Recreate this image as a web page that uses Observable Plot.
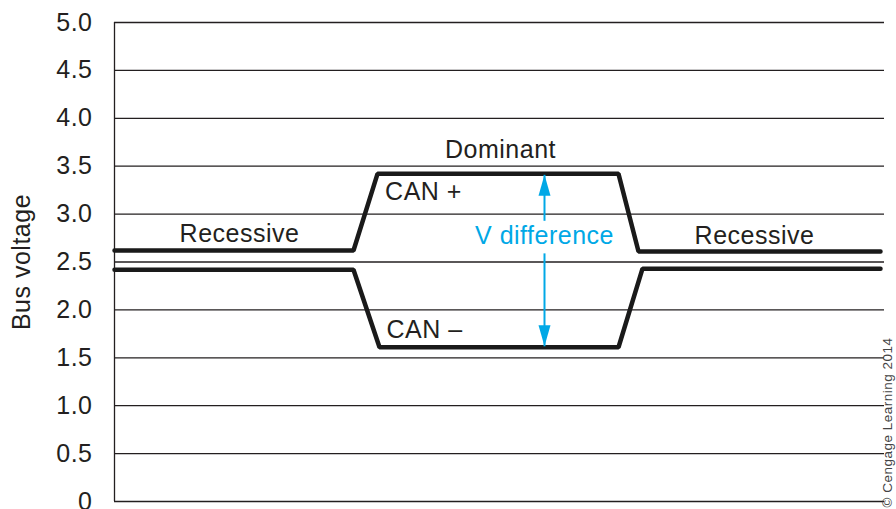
<!DOCTYPE html>
<html>
<head>
<meta charset="utf-8">
<script src="https://cdn.jsdelivr.net/npm/d3@7"></script>
<script src="https://cdn.jsdelivr.net/npm/@observablehq/plot@0.6"></script>
<style>
  html, body { margin: 0; padding: 0; background: #fff; }
  svg { display: block; }
  svg text { letter-spacing: 0.5px; }
</style>
</head>
<body>
<div id="chart"></div>
<script>
// ---- data (x in time units across the plot, y in volts) ----
const canPlusX = [0, 239, 263, 504, 524, 766];
const canPlusY = [2.62, 2.62, 3.42, 3.42, 2.61, 2.61];
const canMinusX = [0, 239, 265, 504, 528, 766];
const canMinusY = [2.42, 2.42, 1.61, 1.61, 2.43, 2.43];
const yTicks = [0, 0.5, 1.0, 1.5, 2.0, 2.5, 3.0, 3.5, 4.0, 4.5, 5.0];

const labelText = ["Dominant", "CAN +", "CAN \u2013", "Recessive", "Recessive"];
const labelX = [386, 309, 310, 125, 640];
const labelY = [3.67, 3.23, 1.79, 2.79, 2.77];

const diffX = 430;
const diffLabel = "V difference";
const diffLabelY = 2.77;
const diffTop = 3.41;
const diffBottom = 1.62;
const gapTop = 2.93;
const gapBottom = 2.59;

const cyan = "#00a8e6";
const ink = "#231f20";

const lines = [
  ...canPlusX.map((x, i) => ({series: "CAN+", x, y: canPlusY[i]})),
  ...canMinusX.map((x, i) => ({series: "CAN-", x, y: canMinusY[i]}))
];
const labels = labelText.map((t, i) => ({t, x: labelX[i], y: labelY[i]}));

const headShape = {
  draw(context) {
    context.moveTo(0, 0);
    context.lineTo(-6, 21);
    context.lineTo(6, 21);
    context.closePath();
  }
};

const font = "'Liberation Sans', Arial, Helvetica, sans-serif";

const chart = Plot.plot({
  width: 896,
  height: 509,
  marginLeft: 114,
  marginRight: 12,
  marginTop: 22,
  marginBottom: 8,
  style: {fontFamily: font, color: ink, background: "#fff", overflow: "visible"},
  x: {domain: [0, 770], axis: null},
  y: {domain: [0, 5], axis: null},
  marks: [
    Plot.ruleY(yTicks, {stroke: ink, strokeWidth: 1.3}),
    Plot.ruleX([0], {stroke: ink, strokeWidth: 1.3}),
    Plot.axisY(yTicks, {
      tickSize: 0, tickPadding: 22, fontSize: 25, fill: ink, label: null,
      tickFormat: d => d === 0 ? "0" : d.toFixed(1)
    }),
    Plot.text(["Bus voltage"], {frameAnchor: "left", textAnchor: "middle", rotate: -90, dx: -93, fontSize: 25, fill: ink}),
    Plot.line(lines, {x: "x", y: "y", z: "series", stroke: "#1a1a1a", strokeWidth: 4.5, strokeLinejoin: "miter"}),
    Plot.text(labels, {x: "x", y: "y", text: "t", fontSize: 25, fill: ink}),
    Plot.link([{y1: diffTop, y2: gapTop}, {y1: gapBottom, y2: diffBottom}], {
      x1: () => diffX, x2: () => diffX, y1: "y1", y2: "y2", stroke: cyan, strokeWidth: 2
    }),
    Plot.vector([{y: diffTop, r: 0}, {y: diffBottom, r: 180}], {
      x: () => diffX, y: "y", rotate: "r", length: 21, anchor: "start",
      shape: headShape, fill: cyan, stroke: "none"
    }),
    Plot.text([diffLabel], {x: () => diffX, y: () => diffLabelY, text: d => d, fontSize: 25, fill: cyan}),
    Plot.text(["\u00a9 Cengage Learning 2014"], {
      frameAnchor: "bottom-right", rotate: -90, dx: 7, dy: 6, textAnchor: "start",
      fontSize: 13.5, fill: "#444"
    })
  ]
});
document.getElementById("chart").append(chart);
</script>
</body>
</html>
